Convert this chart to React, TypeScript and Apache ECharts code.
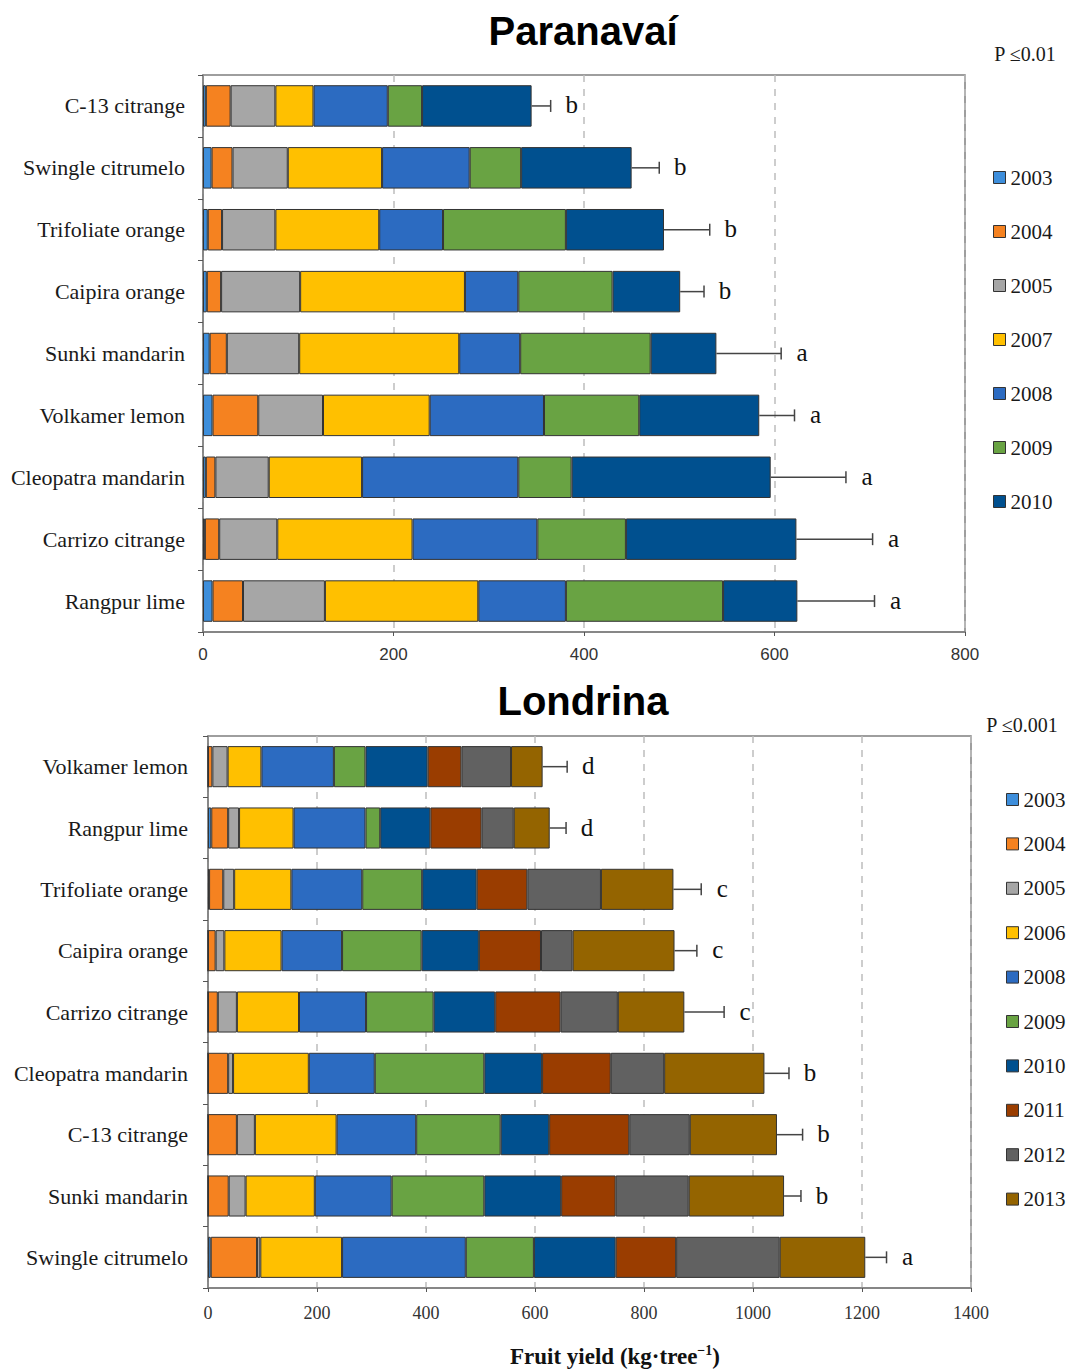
import React, { useEffect, useRef } from "react";
import * as echarts from "echarts";

// ---------- Paranavaí ----------
const topCategories = [
  "C-13 citrange",
  "Swingle citrumelo",
  "Trifoliate orange",
  "Caipira orange",
  "Sunki mandarin",
  "Volkamer lemon",
  "Cleopatra mandarin",
  "Carrizo citrange",
  "Rangpur lime",
];
const topYears = ["2003", "2004", "2005", "2007", "2008", "2009", "2010"];
const top2003 = [3, 9, 5, 4, 7, 10, 3, 2, 10];
const top2004 = [26, 22, 15, 15, 18, 48, 10, 15, 32];
const top2005 = [47, 58, 56, 83, 76, 68, 56, 61, 86];
const top2007 = [40, 99, 109, 173, 168, 112, 98, 142, 161];
const top2008 = [78, 92, 67, 56, 64, 120, 164, 131, 92];
const top2009 = [36, 54, 129, 99, 137, 100, 56, 93, 165];
const top2010 = [115, 116, 103, 71, 69, 126, 209, 179, 78];
const topErr = [20, 29, 48, 25, 68, 37, 79, 80, 81];
const topLetters = ["b", "b", "b", "b", "a", "a", "a", "a", "a"];
const topTicks = { min: 0, max: 800, interval: 200 };

// ---------- Londrina ----------
const botCategories = [
  "Volkamer lemon",
  "Rangpur lime",
  "Trifoliate orange",
  "Caipira orange",
  "Carrizo citrange",
  "Cleopatra mandarin",
  "C-13 citrange",
  "Sunki mandarin",
  "Swingle citrumelo",
];
const botYears = ["2003", "2004", "2005", "2006", "2008", "2009", "2010", "2011", "2012", "2013"];
const bot2003 = [0, 6, 2, 0, 0, 0, 0, 0, 5];
const bot2004 = [8, 31, 26, 14, 18, 37, 53, 38, 85];
const bot2005 = [28, 20, 20, 16, 35, 9, 33, 31, 6];
const bot2006 = [62, 100, 105, 105, 114, 139, 150, 127, 150];
const bot2008 = [133, 132, 130, 111, 123, 121, 146, 141, 227];
const bot2009 = [58, 27, 110, 146, 124, 201, 155, 170, 125];
const bot2010 = [114, 92, 100, 105, 113, 106, 89, 141, 150];
const bot2011 = [62, 94, 93, 114, 120, 126, 147, 100, 111];
const bot2012 = [91, 59, 135, 58, 105, 98, 111, 134, 190];
const bot2013 = [58, 66, 133, 187, 122, 184, 160, 175, 157];
const botErr = [45, 30, 51, 41, 73, 45, 47, 31, 39];
const botLetters = ["d", "d", "c", "c", "c", "b", "b", "b", "a"];
const botTicks = { min: 0, max: 1400, interval: 200 };

const COLORS: Record<string, string> = {
  "2003": "#3D8EDB",
  "2004": "#F58220",
  "2005": "#A6A6A6",
  "2006": "#FFC000",
  "2007": "#FFC000",
  "2008": "#2C6BC1",
  "2009": "#69A343",
  "2010": "#00508F",
  "2011": "#9A3D00",
  "2012": "#616161",
  "2013": "#946400",
};

const topValues = [top2003, top2004, top2005, top2007, top2008, top2009, top2010];
const botValues = [bot2003, bot2004, bot2005, bot2006, bot2008, bot2009, bot2010, bot2011, bot2012, bot2013];

const SERIF = "'Liberation Serif', 'Times New Roman', serif";
const SANS = "'Liberation Sans', Arial, sans-serif";

function sums(arrs: number[][]) {
  return arrs[0].map((_, i) => arrs.reduce((s, a) => s + a[i], 0));
}

function errSeries(idx: number, totals: number[], errs: number[], letters: string[]) {
  return {
    type: "custom",
    xAxisIndex: idx,
    yAxisIndex: idx,
    z: 5,
    silent: true,
    data: totals.map((t, i) => [t, i, t + errs[i]]),
    encode: { x: [0, 2], y: 1 },
    renderItem: (params: any, api: any) => {
      const yi = api.value(1);
      const s = api.coord([api.value(0), yi]);
      const e = api.coord([api.value(2), yi]);
      return {
        type: "group",
        children: [
          { type: "line", shape: { x1: s[0], y1: s[1], x2: e[0], y2: e[1] }, style: { stroke: "#444", lineWidth: 1.5 } },
          { type: "line", shape: { x1: e[0], y1: e[1] - 6, x2: e[0], y2: e[1] + 6 }, style: { stroke: "#444", lineWidth: 1.5 } },
          {
            type: "text",
            x: e[0] + 21,
            y: e[1] - 1,
            style: {
              text: letters[params.dataIndex],
              fontSize: 25,
              fontFamily: SERIF,
              fill: "#111",
              align: "center",
              verticalAlign: "middle",
            },
          },
        ],
      };
    },
  };
}

export default function App() {
  const ref = useRef<HTMLDivElement>(null);
  useEffect(() => {
    if (!ref.current) return;
    const chart = echarts.init(ref.current, null, { renderer: "svg" });
    const barSeries = (years: string[], values: number[][], idx: number, stack: string) =>
      years.map((y, k) => ({
        name: y,
        type: "bar",
        stack,
        xAxisIndex: idx,
        yAxisIndex: idx,
        barCategoryGap: "33%",
        data: values[k],
        itemStyle: { color: COLORS[y], borderColor: "#333", borderWidth: 1 },
      }));

    const xAxisCommon = (idx: number, t: any, font: string, size: number, margin: number) => ({
      type: "value",
      gridIndex: idx,
      min: t.min,
      max: t.max,
      interval: t.interval,
      axisLine: { show: true, lineStyle: { color: "#7f7f7f", width: 1.5 } },
      axisTick: { show: true, length: 4, inside: false, lineStyle: { color: "#555" } },
      axisLabel: { fontFamily: font, fontSize: size, color: "#333", margin, formatter: (v: number) => String(v) },
      splitLine: { show: true, lineStyle: { type: [7, 7], color: "#bdbdbd", width: 1.5 } },
    });
    const yAxisCommon = (idx: number, cats: string[], margin: number) => ({
      type: "category",
      gridIndex: idx,
      inverse: true,
      data: cats,
      axisLine: { show: true, lineStyle: { color: "#7f7f7f", width: 1.5 } },
      axisTick: { show: true, length: 5, lineStyle: { color: "#555" } },
      axisLabel: { fontFamily: SERIF, fontSize: 22, color: "#1a1a1a", margin },
    });

    const legendCommon = {
      orient: "vertical",
      icon: "rect",
      itemWidth: 12,
      itemHeight: 12,
      itemStyle: { borderColor: "#333", borderWidth: 1 },
      textStyle: { fontFamily: SERIF, fontSize: 21, color: "#1a1a1a", lineHeight: 20 },
      selectedMode: false,
    };

    chart.setOption({
      animation: false,
      grid: [
        { left: 203, top: 75, width: 762, height: 557, show: true, borderColor: "#7f7f7f", borderWidth: 1.5, backgroundColor: "transparent" },
        { left: 208, top: 736, width: 763, height: 552, show: true, borderColor: "#7f7f7f", borderWidth: 1.5, backgroundColor: "transparent" },
      ],
      xAxis: [xAxisCommon(0, topTicks, SANS, 17, 14), xAxisCommon(1, botTicks, SERIF, 18, 16)],
      yAxis: [yAxisCommon(0, topCategories, 18), yAxisCommon(1, botCategories, 20)],
      legend: [
        { ...legendCommon, left: 988, top: 162, itemGap: 33, data: topYears },
        { ...legendCommon, left: 1001, top: 784, itemGap: 23.4, data: botYears },
      ],
      graphic: [
        { type: "text", x: 583, y: 31, style: { text: "Paranavaí", fontFamily: SANS, fontWeight: "bold", fontSize: 40, fill: "#000", align: "center", verticalAlign: "middle" } },
        { type: "text", x: 583, y: 701, style: { text: "Londrina", fontFamily: SANS, fontWeight: "bold", fontSize: 40, fill: "#000", align: "center", verticalAlign: "middle" } },
        { type: "text", x: 1025, y: 54, style: { text: "P ≤0.01", fontFamily: SERIF, fontSize: 20, fill: "#1a1a1a", align: "center", verticalAlign: "middle" } },
        { type: "text", x: 1022, y: 725, style: { text: "P ≤0.001", fontFamily: SERIF, fontSize: 20, fill: "#1a1a1a", align: "center", verticalAlign: "middle" } },
        {
          type: "text",
          x: 615,
          y: 1356,
          style: {
            text: "{a|Fruit yield (kg·tree}{b|−1}{a|)}",
            align: "center",
            verticalAlign: "middle",
            rich: {
              a: { fontFamily: SERIF, fontWeight: "bold", fontSize: 23, fill: "#111", color: "#111" },
              b: { fontFamily: SERIF, fontWeight: "bold", fontSize: 14, fill: "#111", color: "#111", padding: [0, 0, 12, 0] },
            },
          },
        },
      ],
      series: [
        ...barSeries(topYears, topValues, 0, "top"),
        errSeries(0, sums(topValues), topErr, topLetters),
        ...barSeries(botYears, botValues, 1, "bot"),
        errSeries(1, sums(botValues), botErr, botLetters),
      ],
    });
    return () => chart.dispose();
  }, []);
  return <div ref={ref} style={{ position: "absolute", left: 0, top: 0, width: 1071, height: 1369, background: "#fff" }} />;
}
